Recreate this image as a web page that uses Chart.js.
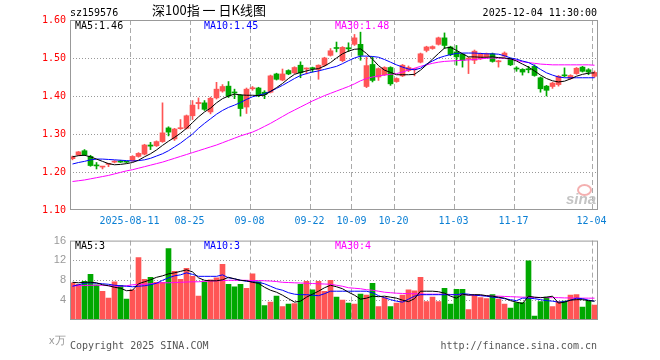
<!DOCTYPE html>
<html>
<head>
<meta charset="utf-8">
<script src="https://cdn.jsdelivr.net/npm/chart.js@4.4.1/dist/chart.umd.min.js"></script>
<style>
  body { margin: 0; background: #fff; width: 660px; height: 360px; position: relative; overflow: hidden; }
  canvas { position: absolute; left: 0; }
  #kline { top: 0; }
  #volume { top: 230px; }
  .t { position: absolute; white-space: nowrap; font: 10px/12px "DejaVu Sans Mono", monospace; }
</style>
</head>
<body>
<canvas id="kline" width="660" height="230"></canvas>
<canvas id="volume" width="660" height="130"></canvas>

<div class="t" style="left:70px;top:7px;color:#000">sz159576</div>
<div class="t" style="left:209px;top:2px;transform:translateX(-50%);font:13px/16px 'Noto Sans CJK SC',sans-serif;color:#000">深100指 一 日K线图</div>
<div class="t" style="right:63px;top:7px;color:#000">2025-12-04 11:30:00</div>

<div class="t" id="lgMa5" style="left:75px;top:20px;color:#000"></div>
<div class="t" id="lgMa10" style="left:204px;top:20px;color:#0000ff"></div>
<div class="t" id="lgMa30" style="left:335px;top:20px;color:#ff00ff"></div>

<div class="t" id="lgVol5" style="left:75px;top:240px;color:#000"></div>
<div class="t" id="lgVol10" style="left:204px;top:240px;color:#0000ff"></div>
<div class="t" id="lgVol30" style="left:335px;top:240px;color:#ff00ff"></div>

<div class="t" style="left:49px;top:334px;font:11px/12px 'Liberation Sans',sans-serif;color:#999">x万</div>
<div class="t" style="left:70px;top:340px;color:#555">Copyright 2025 SINA.COM</div>
<div class="t" style="right:63px;top:340px;color:#555">http://finance.sina.com.cn</div>

<div style="position:absolute;left:577px;top:184px;width:11px;height:8px;border:2px solid #f4b0b0;border-radius:50%"></div>
<div class="t" style="left:566px;top:191px;font:italic bold 15px/15px 'Liberation Sans',sans-serif;color:#c4c4c4">sina</div>

<script>
// trading days 2025-07-28 .. 2025-12-04 (88 bars), index = bar position
var tickIdx = [10, 20, 30, 40, 47, 54, 64, 74, 87];
var tickText = ['2025-08-11', '08-25', '09-08', '09-22', '10-09', '10-20', '11-03', '11-17', '12-04'];

var open = [
  1.235, 1.245, 1.256, 1.241, 1.218, 1.213, 1.220, 1.226, 1.229, 1.227,
  1.230, 1.241, 1.247, 1.271, 1.269, 1.280, 1.316, 1.287, 1.314, 1.315,
  1.348, 1.380, 1.382, 1.358, 1.395, 1.413, 1.426, 1.410, 1.402, 1.371,
  1.419, 1.421, 1.410, 1.410, 1.458, 1.442, 1.467, 1.461, 1.481, 1.471,
  1.474, 1.470, 1.481, 1.507, 1.527, 1.493, 1.527, 1.536, 1.536, 1.425,
  1.483, 1.450, 1.456, 1.475, 1.438, 1.453, 1.467, 1.469, 1.489, 1.520,
  1.525, 1.536, 1.553, 1.529, 1.516, 1.510, 1.497, 1.494, 1.498, 1.503,
  1.511, 1.490, 1.505, 1.498, 1.473, 1.470, 1.471, 1.478, 1.448, 1.426,
  1.425, 1.430, 1.455, 1.446, 1.459, 1.476, 1.469, 1.452
];
var high = [
  1.242, 1.254, 1.259, 1.244, 1.225, 1.215, 1.223, 1.230, 1.231, 1.228,
  1.243, 1.251, 1.273, 1.278, 1.282, 1.382, 1.319, 1.315, 1.338, 1.350,
  1.388, 1.395, 1.388, 1.397, 1.436, 1.430, 1.438, 1.418, 1.404, 1.421,
  1.425, 1.423, 1.414, 1.455, 1.460, 1.471, 1.469, 1.477, 1.490, 1.474,
  1.476, 1.482, 1.502, 1.525, 1.542, 1.530, 1.540, 1.562, 1.568, 1.502,
  1.503, 1.474, 1.477, 1.477, 1.448, 1.483, 1.479, 1.473, 1.513, 1.531,
  1.532, 1.555, 1.566, 1.531, 1.533, 1.512, 1.502, 1.521, 1.513, 1.513,
  1.513, 1.494, 1.516, 1.500, 1.477, 1.472, 1.478, 1.482, 1.450, 1.428,
  1.436, 1.454, 1.474, 1.456, 1.475, 1.478, 1.472, 1.466
];
var low = [
  1.232, 1.243, 1.243, 1.215, 1.208, 1.208, 1.214, 1.224, 1.225, 1.224,
  1.228, 1.239, 1.245, 1.259, 1.267, 1.278, 1.295, 1.283, 1.312, 1.313,
  1.338, 1.366, 1.362, 1.353, 1.392, 1.410, 1.396, 1.393, 1.347, 1.354,
  1.415, 1.398, 1.393, 1.408, 1.442, 1.440, 1.456, 1.459, 1.448, 1.458,
  1.463, 1.444, 1.478, 1.505, 1.516, 1.490, 1.517, 1.533, 1.494, 1.422,
  1.437, 1.441, 1.454, 1.428, 1.436, 1.451, 1.464, 1.453, 1.487, 1.516,
  1.523, 1.534, 1.525, 1.506, 1.481, 1.476, 1.459, 1.485, 1.496, 1.501,
  1.489, 1.476, 1.502, 1.480, 1.465, 1.455, 1.461, 1.452, 1.410, 1.400,
  1.420, 1.426, 1.450, 1.444, 1.457, 1.463, 1.456, 1.449
];
var close = [
  1.240, 1.253, 1.245, 1.217, 1.216, 1.215, 1.222, 1.228, 1.226, 1.226,
  1.241, 1.249, 1.271, 1.268, 1.280, 1.303, 1.305, 1.313, 1.316, 1.348,
  1.376, 1.383, 1.365, 1.394, 1.418, 1.425, 1.400, 1.408, 1.367, 1.418,
  1.421, 1.402, 1.404, 1.453, 1.444, 1.458, 1.458, 1.475, 1.461, 1.473,
  1.472, 1.481, 1.500, 1.519, 1.525, 1.528, 1.524, 1.553, 1.507, 1.480,
  1.441, 1.472, 1.475, 1.432, 1.446, 1.481, 1.475, 1.471, 1.511, 1.529,
  1.530, 1.553, 1.533, 1.509, 1.503, 1.494, 1.499, 1.518, 1.511, 1.511,
  1.491, 1.492, 1.513, 1.482, 1.471, 1.463, 1.469, 1.454, 1.419, 1.415,
  1.434, 1.452, 1.453, 1.454, 1.473, 1.465, 1.463, 1.462
];

var ma5 = [
  1.240, 1.243, 1.244, 1.240, 1.234, 1.228, 1.222, 1.219, 1.220, 1.222,
  1.225, 1.231, 1.240, 1.248, 1.258, 1.270, 1.281, 1.291, 1.302, 1.315,
  1.330, 1.345, 1.358, 1.368, 1.382, 1.393, 1.400, 1.405, 1.403, 1.402,
  1.402, 1.401, 1.402, 1.412, 1.422, 1.433, 1.446, 1.457, 1.462, 1.466,
  1.470, 1.472, 1.479, 1.488, 1.500, 1.511, 1.518, 1.523, 1.524, 1.512,
  1.497, 1.480, 1.468, 1.462, 1.456, 1.456, 1.456, 1.457, 1.468, 1.482,
  1.497, 1.512, 1.526, 1.528, 1.520, 1.511, 1.503, 1.503, 1.502, 1.502,
  1.503, 1.501, 1.500, 1.498, 1.492, 1.484, 1.476, 1.466, 1.455, 1.446,
  1.440, 1.437, 1.439, 1.445, 1.452, 1.457, 1.460, 1.461
];
var ma10 = [
  1.221, 1.225, 1.228, 1.232, 1.234, 1.234, 1.233, 1.232, 1.231, 1.230,
  1.229, 1.230, 1.232, 1.236, 1.242, 1.248, 1.256, 1.266, 1.276, 1.288,
  1.300, 1.315, 1.328, 1.340, 1.352, 1.362, 1.370, 1.376, 1.383, 1.391,
  1.398, 1.402, 1.406, 1.412, 1.420, 1.428, 1.437, 1.446, 1.454, 1.459,
  1.463, 1.466, 1.470, 1.474, 1.478, 1.485, 1.493, 1.500, 1.505, 1.505,
  1.504, 1.502, 1.496, 1.489, 1.482, 1.476, 1.471, 1.469, 1.473, 1.484,
  1.492, 1.500, 1.505, 1.509, 1.512, 1.513, 1.513, 1.513, 1.512, 1.511,
  1.511, 1.510, 1.506, 1.500, 1.497, 1.492, 1.488, 1.480, 1.470, 1.461,
  1.455, 1.450, 1.448, 1.448, 1.448, 1.448, 1.448, 1.448
];
var ma30 = [
  1.175, 1.177, 1.179, 1.182, 1.185, 1.188, 1.191, 1.195, 1.199, 1.203,
  1.206, 1.210, 1.214, 1.218, 1.222, 1.226, 1.231, 1.236, 1.241, 1.246,
  1.251, 1.256, 1.261, 1.266, 1.271, 1.277, 1.283, 1.289, 1.295, 1.300,
  1.305, 1.312, 1.320, 1.328, 1.337, 1.346, 1.355, 1.363, 1.371, 1.379,
  1.387, 1.394, 1.401, 1.407, 1.413, 1.419, 1.425, 1.432, 1.440, 1.446,
  1.450, 1.453, 1.455, 1.457, 1.459, 1.463, 1.468, 1.473, 1.478, 1.482,
  1.486, 1.489, 1.491, 1.492, 1.493, 1.494, 1.495, 1.496, 1.498, 1.499,
  1.500, 1.500, 1.499, 1.497, 1.494, 1.490, 1.488, 1.486, 1.484, 1.483,
  1.482, 1.482, 1.482, 1.482, 1.482, 1.482, 1.482, 1.481
];

// volume, unit 万
var vol = [
  7.5, 7.2, 7.8, 9.2, 7.1, 5.8, 4.4, 7.7, 7.0, 4.2,
  6.1, 12.6, 8.2, 8.6, 7.6, 7.6, 14.4, 9.8, 8.2, 10.4,
  8.8, 4.8, 7.7, 8.1, 8.5, 11.2, 7.2, 6.7, 7.2, 6.4,
  9.3, 7.7, 2.9, 3.6, 4.8, 2.7, 3.2, 3.3, 7.2, 7.8,
  6.1, 7.8, 5.8, 8.0, 4.6, 4.0, 3.4, 3.2, 5.2, 5.0,
  7.4, 2.7, 4.5, 2.7, 3.4, 5.0, 6.1, 5.9, 8.6, 3.7,
  4.6, 3.7, 6.4, 3.2, 6.2, 6.2, 2.1, 5.0, 4.5, 4.3,
  5.1, 4.2, 3.2, 2.4, 3.5, 3.5, 11.9, 0.8, 3.7, 4.6,
  2.7, 3.7, 3.8, 5.0, 5.1, 2.6, 3.8, 3.0
];
var volMa5 = [
  7.6, 7.5, 7.6, 7.6, 7.5, 7.1, 6.9, 6.6, 6.4, 5.9,
  6.0, 7.3, 7.7, 8.1, 8.6, 8.9, 9.3, 9.5, 9.8, 10.1,
  9.7, 8.5, 8.0, 7.9, 7.9, 8.1, 8.6, 8.3, 8.0, 7.9,
  7.6, 7.4, 6.6, 6.0, 5.6, 5.0, 4.3, 3.6, 3.8, 4.6,
  5.2, 5.8, 6.5, 7.0, 6.7, 6.3, 5.6, 5.0, 4.2, 4.4,
  4.8, 4.7, 4.8, 4.6, 4.4, 4.0, 3.7, 4.3, 5.8, 5.8,
  5.8, 5.7, 5.4, 4.8, 4.4, 5.2, 5.0, 5.1, 5.1, 4.9,
  4.8, 4.6, 4.4, 3.9, 3.6, 3.3, 4.8, 4.6, 4.5, 4.6,
  4.8, 3.4, 3.6, 4.0, 4.1, 4.1, 3.9, 3.8
];
var volMa10 = [
  6.8, 7.1, 7.4, 7.5, 7.4, 7.3, 7.2, 7.0, 6.9, 6.8,
  6.7, 6.8, 6.9, 7.1, 7.4, 8.0, 8.5, 8.9, 9.1, 9.5,
  9.2, 8.8, 8.8, 8.8, 8.8, 9.1, 8.5, 8.3, 8.0, 7.8,
  7.7, 7.6, 7.3, 6.8, 6.3, 6.0, 5.5, 5.2, 5.1, 5.1,
  5.0, 4.9, 5.3, 5.8, 5.8, 5.8, 5.8, 5.8, 5.8, 5.8,
  5.5, 4.9, 4.5, 4.1, 3.8, 3.6, 4.2, 4.8, 5.1, 5.1,
  5.1, 5.1, 5.1, 5.1, 5.1, 5.3, 5.2, 5.0, 4.9, 4.8,
  4.6, 4.5, 4.3, 4.1, 3.9, 4.4, 4.4, 4.3, 4.1, 3.9,
  3.8, 3.6, 3.7, 4.0, 4.4, 4.3, 4.0, 3.8
];
var volMa30 = [
  6.9, 6.9, 6.95, 7.0, 7.0, 7.0, 6.9, 6.85, 6.8, 6.9,
  7.1, 7.15, 7.2, 7.3, 7.4, 7.5, 7.5, 7.55, 7.6, 7.65,
  7.7, 7.7, 7.8, 7.85, 7.9, 7.95, 8.0, 8.0, 8.0, 8.0,
  7.95, 7.95, 7.9, 7.85, 7.75, 7.6, 7.55, 7.5, 7.45, 7.4,
  7.35, 7.3, 7.25, 7.2, 7.0, 6.8, 6.5, 6.4, 6.3, 6.1,
  6.0, 5.8, 5.6, 5.5, 5.4, 5.35, 5.3, 5.3, 5.25, 5.2,
  5.2, 5.2, 5.2, 5.15, 5.1, 5.1, 5.05, 5.0, 4.95, 4.9,
  4.8, 4.8, 4.75, 4.7, 4.65, 4.6, 4.6, 4.55, 4.55, 4.5,
  4.5, 4.5, 4.45, 4.45, 4.4, 4.4, 4.4, 4.4
];

var priceGrid = [1.2, 1.3, 1.4, 1.5];
var volGrid = [4, 8, 12];

var UP = '#ff5555';
var DOWN = '#00a800';
var MONO = '"DejaVu Sans Mono", monospace';

var colors = close.map(function (c, i) { return c >= open[i] ? UP : DOWN; });

function pts(arr) {
  return arr.map(function (v, i) { return { x: i, y: v }; });
}

function lineSet(arr, color) {
  return { type: 'line', data: pts(arr), borderColor: color, borderWidth: 1, pointRadius: 0, tension: 0, order: 0 };
}

var last = close.length - 1;
document.getElementById('lgMa5').textContent = 'MA5:' + ma5[last].toFixed(2);
document.getElementById('lgMa10').textContent = 'MA10:' + ma10[last].toFixed(2);
document.getElementById('lgMa30').textContent = 'MA30:' + ma30[last].toFixed(2);
document.getElementById('lgVol5').textContent = 'MA5:' + Math.floor(volMa5[last]);
document.getElementById('lgVol10').textContent = 'MA10:' + Math.floor(volMa10[last]);
document.getElementById('lgVol30').textContent = 'MA30:' + Math.floor(volMa30[last]);

// dotted/dashed grid under the marks, grey frame on top
function panelPlugin(hLines) {
  return {
    id: 'panelGrid',
    beforeDatasetsDraw: function (chart) {
      var ctx = chart.ctx, a = chart.chartArea;
      var xs = chart.scales.x, ys = chart.scales.y;
      ctx.save();
      ctx.lineWidth = 1;
      ctx.strokeStyle = '#999999';
      ctx.setLineDash([1, 2]);
      hLines.forEach(function (v) {
        var y = Math.round(ys.getPixelForValue(v)) + 0.5;
        ctx.beginPath(); ctx.moveTo(a.left, y); ctx.lineTo(a.right, y); ctx.stroke();
      });
      ctx.strokeStyle = '#aaaaaa';
      ctx.setLineDash([5, 3]);
      tickIdx.forEach(function (i) {
        var x = Math.round(xs.getPixelForValue(i - 0.5)) + 0.5;
        ctx.beginPath(); ctx.moveTo(x, a.top); ctx.lineTo(x, a.bottom); ctx.stroke();
      });
      ctx.restore();
    },
    afterDraw: function (chart) {
      var ctx = chart.ctx, a = chart.chartArea;
      ctx.save();
      ctx.lineWidth = 1;
      ctx.setLineDash([]);
      ctx.strokeStyle = '#999';
      ctx.strokeRect(a.left + 0.5, a.top + 0.5, a.right - a.left - 1, a.bottom - a.top - 1);
      ctx.restore();
    }
  };
}

function xAxis(show) {
  return {
    type: 'linear',
    min: -5 / 12,
    max: 88 - 5 / 12,
    offset: false,
    display: show,
    grid: { display: false, drawTicks: false },
    border: { display: false },
    afterBuildTicks: function (s) {
      s.ticks = tickIdx.map(function (i) { return { value: i - 0.5 }; });
    },
    afterFit: function (s) { s.height = 20; },
    ticks: {
      autoSkip: false,
      maxRotation: 0,
      padding: 5,
      color: '#0a7fd4',
      font: { family: MONO, size: 10 },
      callback: function (v) {
        var k = tickIdx.indexOf(Math.round(v + 0.5));
        return k >= 0 ? tickText[k] : '';
      }
    }
  };
}

new Chart(document.getElementById('kline'), {
  type: 'bar',
  data: {
    datasets: [
      lineSet(ma5, '#000000'),
      lineSet(ma10, '#0000ff'),
      lineSet(ma30, '#ff00ff'),
      {
        data: close.map(function (c, i) { return { x: i, y: [Math.min(open[i], c), Math.max(open[i], c)] }; }),
        backgroundColor: colors,
        barThickness: 5,
        minBarLength: 1,
        grouped: false,
        order: 1
      },
      {
        data: close.map(function (c, i) { return { x: i, y: [low[i], high[i]] }; }),
        backgroundColor: colors,
        barThickness: 1,
        grouped: false,
        order: 2
      }
    ]
  },
  options: {
    responsive: false,
    animation: false,
    events: [],
    layout: { padding: { top: 20, right: 62, left: 0, bottom: 0 } },
    plugins: { legend: { display: false }, tooltip: { enabled: false } },
    scales: {
      x: xAxis(true),
      y: {
        min: 1.1,
        max: 1.6,
        grid: { display: false, drawTicks: false },
        border: { display: false },
        afterFit: function (s) { s.width = 70; },
        ticks: {
          stepSize: 0.1,
          autoSkip: false,
          padding: 4,
          color: '#ff0000',
          font: { family: MONO, size: 10 },
          callback: function (v) { return v.toFixed(2); }
        }
      }
    }
  },
  plugins: [panelPlugin(priceGrid)]
});

new Chart(document.getElementById('volume'), {
  type: 'bar',
  data: {
    datasets: [
      lineSet(volMa5, '#000000'),
      lineSet(volMa10, '#0000ff'),
      lineSet(volMa30, '#ff00ff'),
      {
        data: pts(vol),
        backgroundColor: colors,
        barThickness: 5,
        grouped: false,
        order: 1
      }
    ]
  },
  options: {
    responsive: false,
    animation: false,
    events: [],
    layout: { padding: { top: 10, right: 62, left: 0, bottom: 20 } },
    plugins: { legend: { display: false }, tooltip: { enabled: false } },
    scales: {
      x: xAxis(false),
      y: {
        min: 0,
        max: 16,
        grid: { display: false, drawTicks: false },
        border: { display: false },
        afterFit: function (s) { s.width = 70; },
        ticks: {
          stepSize: 4,
          autoSkip: false,
          padding: 4,
          color: '#999999',
          font: { family: '"Liberation Sans", sans-serif', size: 11 },
          callback: function (v) { return v === 0 ? '' : v; }
        }
      }
    }
  },
  plugins: [panelPlugin(volGrid)]
});
</script>
</body>
</html>
